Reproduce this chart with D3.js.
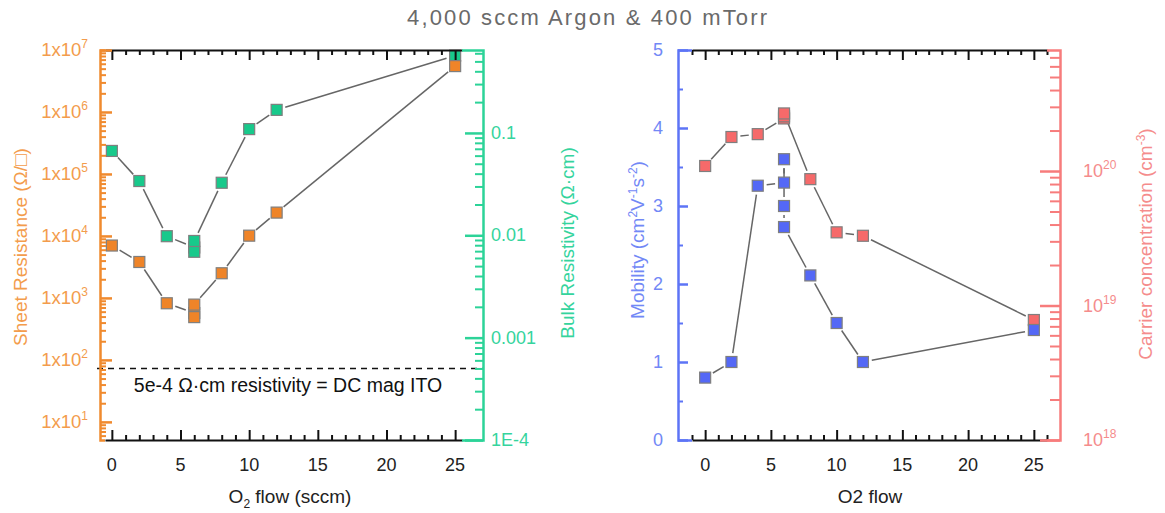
<!DOCTYPE html>
<html>
<head>
<meta charset="utf-8">
<script src="https://cdn.jsdelivr.net/npm/d3@7"></script>
<style>
  body { margin: 0; background: #fff; }
  svg text { font-family: "Liberation Sans", Arial, sans-serif; }
</style>
</head>
<body>
<svg id="chart" width="1165" height="513"></svg>
<script>
// ---- data ----
// left panel: O2 flow vs sheet resistance / bulk resistivity
const flowLeft = [0, 2, 4, 6, 6, 6, 8, 10, 12, 25];
const sheetResistance = [7000, 3800, 820, 570, 490, 780, 2500, 10100, 23800, 5.5e6];
const bulkResistivity = [0.0667, 0.0339, 0.0098, 0.0076, 0.0069, 0.0088, 0.0326, 0.109, 0.168, 0.569];
const dcMagResistivity = 5e-4;

// right panel: O2 flow vs mobility / carrier concentration
const flowMobility = [0, 2, 4, 6, 6, 6, 6, 8, 10, 12, 25];
const mobility = [0.8, 1.0, 3.26, 3.3, 3.6, 3.0, 2.73, 2.11, 1.5, 1.0, 1.41];
const flowCarrier = [0, 2, 4, 6, 6, 6, 8, 10, 12, 25];
const carrier = [1.09e20, 1.79e20, 1.88e20, 2.46e20, 2.55e20, 2.68e20, 8.7e19, 3.5e19, 3.3e19, 7.8e18];

// tick values
const flowTicks = [0, 5, 10, 15, 20, 25];
const sheetTicks = [1e1, 1e2, 1e3, 1e4, 1e5, 1e6, 1e7];
const resistivityTicks = [1e-4, 1e-3, 1e-2, 1e-1];
const resistivityLabels = ['1E-4', '0.001', '0.01', '0.1'];
const mobilityTicks = [0, 1, 2, 3, 4, 5];
const carrierTicks = [1e18, 1e19, 1e20];

const C = {
  orange: '#f08a2e', orangeFill: '#ef8428', orangeText: '#f39c4c',
  green: '#2cd398', greenFill: '#18c98b', greenText: '#35d49d',
  blue: '#5d74f6', blueFill: '#5468f6', blueText: '#7288f6',
  red: '#f77c7c', redFill: '#f66a6a', redText: '#f58c8c',
  line: '#666', marker: '#7f7f7f'
};

const svg = d3.select('#chart');
const plotTop = 50, plotBottom = 440;
const tickFont = 18, titleFont = 19;

// scales
const xL = d3.scaleLinear().domain([-0.5, 25.5]).range([105, 462]);
const ySheet = d3.scaleLog().domain([5.1, 1e7]).range([plotBottom, plotTop]);
const yRes = d3.scaleLog().domain([1e-4, 0.646]).range([plotBottom, plotTop]);

const xR = d3.scaleLinear().domain([-1, 26]).range([692, 1047]);
const yMob = d3.scaleLinear().domain([0, 5]).range([plotBottom, plotTop]);
const yCar = d3.scaleLog().domain([1e18, 7.94e20]).range([plotBottom, plotTop]);

function logMinors(scale) {
  const [a, b] = scale.domain();
  const out = [];
  for (let e = Math.floor(Math.log10(a)); e <= Math.ceil(Math.log10(b)); e++) {
    for (let k = 2; k <= 9; k++) {
      const v = k * Math.pow(10, e);
      if (v >= a && v <= b) out.push(v);
    }
  }
  return out;
}

function intMinors(scale, skip) {
  const [a, b] = scale.domain();
  return d3.range(Math.ceil(a), Math.floor(b) + 1).filter(v => v % skip !== 0);
}

// series: grey connecting line with a gap round each marker, then squares
function drawSeries(xs, ys, x, y, fill) {
  const pts = xs.map((d, i) => [x(d), y(ys[i])]);
  const gap = 9;
  const g = svg.append('g');
  const segs = d3.pairs(pts).filter(([p, q]) => Math.hypot(q[0] - p[0], q[1] - p[1]) > 2 * gap + 1);
  const f = ([p, q]) => gap / Math.hypot(q[0] - p[0], q[1] - p[1]);
  g.selectAll('line').data(segs).join('line')
    .attr('x1', s => s[0][0] + (s[1][0] - s[0][0]) * f(s))
    .attr('y1', s => s[0][1] + (s[1][1] - s[0][1]) * f(s))
    .attr('x2', s => s[1][0] - (s[1][0] - s[0][0]) * f(s))
    .attr('y2', s => s[1][1] - (s[1][1] - s[0][1]) * f(s))
    .attr('stroke', C.line)
    .attr('stroke-width', 1.5);
  g.selectAll('rect').data(pts).join('rect')
    .attr('x', d => d[0] - 5.5)
    .attr('y', d => d[1] - 5.5)
    .attr('width', 11)
    .attr('height', 11)
    .attr('fill', fill)
    .attr('stroke', C.marker)
    .attr('stroke-width', 1.2);
}

function styleAxis(g, color, width) {
  g.selectAll('path, line').attr('stroke', color).attr('stroke-width', width);
  g.select('.domain').attr('fill', 'none');
}

function yAxis(scale, xPos, side, majors, minors, color, major, minor, cap) {
  const make = side === 'right' ? d3.axisRight : d3.axisLeft;
  svg.append('g').attr('transform', `translate(${xPos},0)`)
    .call(make(scale).tickValues(minors).tickSize(minor).tickFormat(''))
    .call(g => g.select('.domain').remove())
    .call(g => styleAxis(g, color, 2));
  svg.append('g').attr('transform', `translate(${xPos},0)`)
    .call(make(scale).tickValues(majors).tickSize(major).tickSizeOuter(cap).tickFormat(''))
    .call(g => styleAxis(g, color, 2.5));
}

function xFrame(x) {
  const minors = intMinors(x, 5);
  [[plotTop, d3.axisBottom], [plotBottom, d3.axisTop]].forEach(([yPos, make]) => {
    svg.append('g').attr('transform', `translate(0,${yPos})`)
      .call(make(x).tickValues(minors).tickSize(5).tickFormat(''))
      .call(g => g.select('.domain').remove())
      .call(g => styleAxis(g, '#111', 2));
    svg.append('g').attr('transform', `translate(0,${yPos})`)
      .call(make(x).tickValues(flowTicks).tickSize(10).tickSizeOuter(0).tickFormat(''))
      .call(g => styleAxis(g, '#111', 2));
  });
  svg.append('g').selectAll('text').data(flowTicks).join('text')
    .attr('x', d => x(d))
    .attr('y', 471)
    .attr('text-anchor', 'middle')
    .attr('font-size', tickFont)
    .attr('fill', '#222')
    .text(d => d);
}

function supLabel(g, base, sup) {
  g.append('tspan').text(base);
  g.append('tspan').attr('font-size', 12).attr('dy', -8).text(sup);
}

function rotatedTitle(cx, cy, color, build) {
  const t = svg.append('text')
    .attr('transform', `translate(${cx},${cy}) rotate(-90)`)
    .attr('text-anchor', 'middle')
    .attr('dy', '0.35em')
    .attr('font-size', titleFont)
    .attr('fill', color);
  build(t);
}

// ---- title ----
svg.append('text')
  .attr('x', 587)
  .attr('y', 25)
  .attr('text-anchor', 'middle')
  .attr('font-family', '"DejaVu Sans", sans-serif')
  .attr('font-size', 22)
  .attr('textLength', 360)
  .attr('lengthAdjust', 'spacing')
  .attr('fill', '#6a6a6a')
  .text('4,000 sccm Argon & 400 mTorr');

// ---- left panel ----
// dashed reference at 5e-4 ohm.cm
svg.append('line')
  .attr('x1', 97).attr('x2', 483)
  .attr('y1', yRes(dcMagResistivity)).attr('y2', yRes(dcMagResistivity))
  .attr('stroke', '#111').attr('stroke-width', 1.5).attr('stroke-dasharray', '6,5');
svg.append('text')
  .attr('x', 288)
  .attr('y', yRes(dcMagResistivity) + 24)
  .attr('text-anchor', 'middle')
  .attr('font-size', 19.5)
  .attr('fill', '#111')
  .text('5e-4 \u03A9\u00B7cm resistivity = DC mag ITO');

drawSeries(flowLeft, bulkResistivity, xL, yRes, C.greenFill);
drawSeries(flowLeft, sheetResistance, xL, ySheet, C.orangeFill);

xFrame(xL);
yAxis(ySheet, 100, 'right', sheetTicks, logMinors(ySheet), C.orange, 12, 6, 5);
yAxis(yRes, 483, 'left', resistivityTicks, logMinors(yRes), C.green, 18, 8, 21);

sheetTicks.forEach(v => {
  const t = svg.append('text')
    .attr('x', 88).attr('y', ySheet(v) + 6)
    .attr('text-anchor', 'end')
    .attr('font-size', 18.5)
    .attr('fill', C.orangeText);
  supLabel(t, '1x10', Math.round(Math.log10(v)));
});
svg.append('g').selectAll('text').data(resistivityTicks).join('text')
  .attr('x', 491)
  .attr('y', d => yRes(d) + 6)
  .attr('font-size', tickFont)
  .attr('fill', C.greenText)
  .text((d, i) => resistivityLabels[i]);

rotatedTitle(20, 247, C.orangeText, t => t.text('Sheet Resistance (\u03A9/\u25A1)'));
rotatedTitle(567, 243, C.greenText, t => t.text('Bulk Resistivity (\u03A9\u00B7cm)'));

const xlt = svg.append('text')
  .attr('x', 290).attr('y', 503)
  .attr('text-anchor', 'middle')
  .attr('font-size', titleFont)
  .attr('fill', '#222');
xlt.append('tspan').text('O');
xlt.append('tspan').attr('font-size', 12).attr('dy', 5).text('2');
xlt.append('tspan').attr('dy', -5).text(' flow (sccm)');

// ---- right panel ----
drawSeries(flowCarrier, carrier, xR, yCar, C.redFill);
drawSeries(flowMobility, mobility, xR, yMob, C.blueFill);

xFrame(xR);
yAxis(yMob, 678, 'right', mobilityTicks, [0.5, 1.5, 2.5, 3.5, 4.5], C.blue, 10, 5, 14);
yAxis(yCar, 1060, 'left', carrierTicks, logMinors(yCar), C.red, 20, 10, 13);

svg.append('g').selectAll('text').data(mobilityTicks).join('text')
  .attr('x', 663)
  .attr('y', d => yMob(d) + 6)
  .attr('text-anchor', 'end')
  .attr('font-size', tickFont)
  .attr('fill', C.blueText)
  .text(d => d);
carrierTicks.forEach(v => {
  const t = svg.append('text')
    .attr('x', 1083).attr('y', yCar(v) + 6)
    .attr('font-size', tickFont)
    .attr('fill', C.redText);
  supLabel(t, '10', Math.round(Math.log10(v)));
});

rotatedTitle(637, 240, C.blueText, t => {
  t.append('tspan').text('Mobility (cm');
  t.append('tspan').attr('font-size', 12).attr('dy', -7).text('2');
  t.append('tspan').attr('dy', 7).text('V');
  t.append('tspan').attr('font-size', 12).attr('dy', -7).text('-1');
  t.append('tspan').attr('dy', 7).text('s');
  t.append('tspan').attr('font-size', 12).attr('dy', -7).text('-2');
  t.append('tspan').attr('dy', 7).text(')');
});
rotatedTitle(1145, 244, C.redText, t => {
  t.append('tspan').text('Carrier concentration (cm');
  t.append('tspan').attr('font-size', 12).attr('dy', -7).text('-3');
  t.append('tspan').attr('dy', 7).text(')');
});

svg.append('text')
  .attr('x', 870).attr('y', 503)
  .attr('text-anchor', 'middle')
  .attr('font-size', titleFont)
  .attr('fill', '#222')
  .text('O2 flow');
</script>
</body>
</html>
